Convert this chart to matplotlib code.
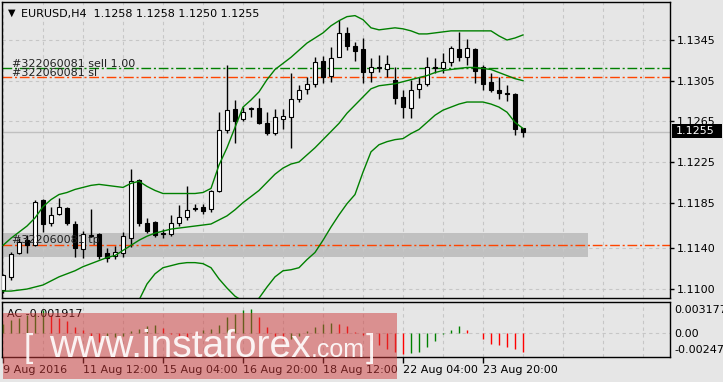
import numpy as np
import matplotlib
matplotlib.use("Agg")
import matplotlib.pyplot as plt
from matplotlib.patches import Rectangle

# EURUSD H4 candles (bar 0 .. 65)
opens = [1.1099, 1.1112, 1.1135, 1.1148, 1.1143, 1.1188, 1.1165, 1.1174, 1.1180, 1.1164,
         1.1139, 1.1152, 1.1154, 1.1135, 1.1133, 1.1135, 1.1150, 1.1207, 1.1165, 1.1166,
         1.1155, 1.1154, 1.1165, 1.1171, 1.1179, 1.1181, 1.1179, 1.1196, 1.1256, 1.1277,
         1.1267, 1.1277, 1.1278, 1.1263, 1.1254, 1.1267, 1.1269, 1.1287, 1.1297, 1.1302,
         1.1324, 1.1310, 1.1328, 1.1352, 1.1339, 1.1336, 1.1314, 1.1318, 1.1316, 1.1306,
         1.1289, 1.1278, 1.1297, 1.1302, 1.1318, 1.1317, 1.1323, 1.1336, 1.1328, 1.1336,
         1.1318, 1.1304, 1.1296, 1.1293, 1.1292, 1.1258]
highs = [1.1115, 1.1136, 1.1150, 1.1153, 1.1188, 1.1189, 1.1181, 1.1190, 1.1181, 1.1167,
         1.1157, 1.1179, 1.1155, 1.1140, 1.1142, 1.1156, 1.1218, 1.1208, 1.1170, 1.1167,
         1.1159, 1.1173, 1.1183, 1.1201, 1.1184, 1.1184, 1.1197, 1.1274, 1.1320, 1.1286,
         1.1279, 1.1279, 1.1288, 1.1274, 1.1277, 1.1277, 1.1313, 1.1301, 1.1309, 1.1328,
         1.1329, 1.1338, 1.1365, 1.1358, 1.1343, 1.1347, 1.1327, 1.1330, 1.1330, 1.1318,
         1.1296, 1.1306, 1.1309, 1.1328, 1.1327, 1.1332, 1.1339, 1.1353, 1.1346, 1.1337,
         1.1320, 1.1313, 1.1309, 1.1301, 1.1293, 1.1258]
lows = [1.1096, 1.1109, 1.1134, 1.1135, 1.1142, 1.1156, 1.1162, 1.1173, 1.1163, 1.1132,
        1.1131, 1.1151, 1.1130, 1.1127, 1.1130, 1.1132, 1.1141, 1.1162, 1.1155, 1.1151,
        1.1150, 1.1152, 1.1162, 1.1168, 1.1177, 1.1174, 1.1176, 1.1195, 1.1254, 1.1244,
        1.1265, 1.1269, 1.1262, 1.1252, 1.1252, 1.1257, 1.1239, 1.1284, 1.1292, 1.1299,
        1.1303, 1.1304, 1.1328, 1.1335, 1.1324, 1.1303, 1.1304, 1.1314, 1.1309, 1.1282,
        1.1268, 1.1268, 1.1288, 1.1300, 1.1313, 1.1313, 1.1319, 1.1324, 1.1320, 1.1303,
        1.1296, 1.1294, 1.1287, 1.1285, 1.1252, 1.1250]
closes = [1.1114, 1.1134, 1.1146, 1.1143, 1.1186, 1.1164, 1.1173, 1.1181, 1.1165, 1.1140,
          1.1154, 1.1153, 1.1133, 1.1131, 1.1136, 1.1152, 1.1206, 1.1165, 1.1157, 1.1153,
          1.1154, 1.1165, 1.1171, 1.1178, 1.1179, 1.1177, 1.1196, 1.1256, 1.1276, 1.1265,
          1.1274, 1.1278, 1.1263, 1.1254, 1.1269, 1.1270, 1.1287, 1.1296, 1.1302, 1.1323,
          1.1309, 1.1327, 1.1352, 1.1339, 1.1334, 1.1314, 1.1318, 1.1317, 1.1321, 1.1288,
          1.1279, 1.1296, 1.1302, 1.1318, 1.1317, 1.1323, 1.1337, 1.1328, 1.1337, 1.1315,
          1.1302, 1.1296, 1.1293, 1.1292, 1.1257, 1.1255]

# Bollinger bands
bb_upper = [1.1143, 1.1150, 1.1156, 1.1162, 1.1170, 1.1181, 1.1188, 1.1193, 1.1195, 1.1198,
            1.1200, 1.1202, 1.1203, 1.1202, 1.1201, 1.1200, 1.1204, 1.1206, 1.1201, 1.1197,
            1.1194, 1.1194, 1.1194, 1.1194, 1.1194, 1.1195, 1.1199, 1.1222, 1.1239, 1.1259,
            1.1279, 1.1286, 1.1294, 1.1306, 1.1316, 1.1322, 1.1328, 1.1335, 1.1342, 1.1347,
            1.1352, 1.1359, 1.1364, 1.1368, 1.1369, 1.1365, 1.1357, 1.1355, 1.1356, 1.1357,
            1.1356, 1.1354, 1.1351, 1.1351, 1.1352, 1.1353, 1.1354, 1.1354, 1.1354, 1.1354,
            1.1354, 1.1354, 1.1349, 1.1345, 1.1347, 1.1350]
bb_middle = [1.1098, 1.1098, 1.1099, 1.1100, 1.1102, 1.1104, 1.1108, 1.1112, 1.1115, 1.1118,
             1.1122, 1.1125, 1.1128, 1.1131, 1.1133, 1.1138, 1.1143, 1.1148, 1.1152, 1.1155,
             1.1157, 1.1159, 1.1160, 1.1161, 1.1162, 1.1163, 1.1164, 1.1168, 1.1172, 1.1178,
             1.1185, 1.1191, 1.1197, 1.1205, 1.1213, 1.1219, 1.1223, 1.1225, 1.1232, 1.1239,
             1.1247, 1.1255, 1.1263, 1.1273, 1.1281, 1.1289, 1.1297, 1.1300, 1.1301, 1.1302,
             1.1304, 1.1306, 1.1308, 1.1310, 1.1313, 1.1315, 1.1316, 1.1317, 1.1318, 1.1318,
             1.1317, 1.1316, 1.1313, 1.1310, 1.1307, 1.1305]
bb_lower = [1.1053, 1.1046, 1.1042, 1.1038, 1.1034, 1.1027, 1.1028, 1.1031, 1.1034, 1.1037,
            1.1043, 1.1047, 1.1052, 1.1059, 1.1066, 1.1076, 1.1082, 1.1089, 1.1105, 1.1115,
            1.1121, 1.1123, 1.1125, 1.1126, 1.1126, 1.1125, 1.1121, 1.1110, 1.1101, 1.1093,
            1.1088, 1.1087, 1.1091, 1.1102, 1.1112, 1.1118, 1.1119, 1.1121, 1.1129, 1.1136,
            1.1148, 1.1161, 1.1173, 1.1184, 1.1193, 1.1215, 1.1235, 1.1242, 1.1245, 1.1247,
            1.1248, 1.1253, 1.1257, 1.1264, 1.1271, 1.1276, 1.1279, 1.1282, 1.1284, 1.1284,
            1.1284, 1.1282, 1.1279, 1.1274, 1.1264, 1.1258]

# Accelerator oscillator
ac = [0.00092, 0.00134, 0.00154, 0.00185, 0.00205, 0.00236, 0.00185, 0.00154, 0.00123, 0.00062,
      0.00031, -0.00031, -0.00092, -0.00062, -0.00041, -0.00031, 0.00021, 0.00041, 0.00072, 0.00082,
      0.00051, -0.00010, -0.00031, -0.00041, -0.00051, 0.00031, 0.00041, 0.00082, 0.00164, 0.00195,
      0.00236, 0.00246, 0.00164, 0.00062, -0.00031, -0.00072, -0.00062, -0.00031, 0.00021, 0.00062,
      0.00092, 0.00103, 0.00092, 0.00072, 0.00010, -0.00021, -0.00072, -0.00123, -0.00164, -0.00195,
      -0.00216, -0.00205, -0.00195, -0.00144, -0.00082, -0.00010, 0.00031, 0.00072, 0.00031, -0.00005,
      -0.00062, -0.00113, -0.00123, -0.00144, -0.00164, -0.001917]

price_ticks = [1.1100, 1.1140, 1.1185, 1.1225, 1.1265, 1.1305, 1.1345]
time_ticks = [0, 10, 20, 30, 40, 50, 60]
time_labels = ["9 Aug 2016", "11 Aug 12:00", "15 Aug 04:00", "16 Aug 20:00",
               "18 Aug 12:00", "22 Aug 04:00", "23 Aug 20:00"]

sell_price = 1.13175
sl_price = 1.1309
tp_price = 1.1143
zone_top, zone_bottom = 1.1155, 1.11315
last_price = 1.1255

W, H = 723, 382
BG = "#e6e6e6"
GRID = "#c6c6c6"
plt.rcParams['font.family'] = ['DejaVu Sans']

fig = plt.figure(figsize=(W / 100, H / 100), dpi=100, facecolor=BG)
ax = fig.add_axes([2 / W, 1 - 298 / H, 668 / W, 296 / H], facecolor=BG)
ax2 = fig.add_axes([2 / W, 1 - 357 / H, 668 / W, 55 / H], facecolor=BG)

x = np.arange(len(closes))
o = np.array(opens); c = np.array(closes)
xmin, xmax = -0.125, 83.375

# grid
for a in (ax, ax2):
    for gx in range(0, 84, 5):
        a.axvline(gx, color=GRID, lw=0.8, ls=(0, (3, 3)), zorder=1)
for p in price_ticks:
    ax.axhline(p, color=GRID, lw=0.8, ls=(0, (3, 3)), zorder=1)
ax2.axhline(0, color=GRID, lw=0.8, ls=(0, (3, 3)), zorder=1)

# tp zone and order lines
ax.add_patch(Rectangle((xmin, zone_bottom), 73.1 - xmin, zone_top - zone_bottom,
                       facecolor="#c0c0c0", edgecolor="none", zorder=0.5))
ax.axhline(last_price, color="#c0c0c0", lw=1, zorder=1.5)
ax.axhline(sell_price, color="#008000", lw=1, ls=(0, (7, 2, 1.5, 2)), zorder=2)
ax.axhline(sl_price, color="#ff4500", lw=1, ls=(0, (7, 2, 1.5, 2)), zorder=2)
ax.axhline(tp_price, color="#ff4500", lw=1, ls=(0, (7, 2, 1.5, 2)), zorder=2)
ax.text(1.1, sell_price + 0.0001, "#322060081 sell 1.00", fontsize=8, color="#202020",
        va="baseline", zorder=6)
ax.text(1.1, sl_price + 0.0001, "#322060081 sl", fontsize=8, color="#202020",
        va="baseline", zorder=6)
ax.text(1.1, tp_price + 0.0002, "#322060081 tp", fontsize=8, color="#202020",
        va="baseline", zorder=6)

# candles
ax.vlines(x, lows, highs, color="black", lw=1, zorder=3)
body_lo = np.minimum(o, c)
body_h = np.maximum(np.abs(c - o), 0.00005)
cols = ["white" if cc > oo else "black" for oo, cc in zip(o, c)]
ax.bar(x, body_h, bottom=body_lo, width=0.55, color=cols, edgecolor="black",
       lw=0.8, zorder=4)

# bands
for band in (bb_upper, bb_middle, bb_lower):
    ax.plot(x, band, color="#008000", lw=1, zorder=5)

ax.set_xlim(xmin, xmax)
ax.set_ylim(1.10912, 1.13824)
ax.set_xticks([])
ax.yaxis.tick_right()
ax.set_yticks(price_ticks)
ax.set_yticklabels(["%.4f" % p for p in price_ticks])
ax.tick_params(axis="y", length=3, width=1, pad=2, labelsize=8, colors="black")
for s in ax.spines.values():
    s.set_color("black"); s.set_linewidth(1)

# title
fig.text(8 / W, 1 - 12.5 / H, "\u25bc", fontsize=7, va="center", color="black")
fig.text(21 / W, 1 - 16.5 / H, "EURUSD,H4  1.1258 1.1258 1.1250 1.1255",
         fontsize=8, va="baseline", color="black")

# current price marker
fig.patches.append(Rectangle((672 / W, 1 - 138 / H), 50 / W, 14 / H,
                             transform=fig.transFigure, facecolor="black",
                             edgecolor="none", zorder=2))
fig.text(676 / W, 1 - 131 / H, "%.4f" % last_price, fontsize=8, color="white",
         va="center", zorder=3)

# AC pane
ac_arr = np.array(ac)
ac_cols = ["#008000" if i == 0 or ac_arr[i] > ac_arr[i - 1] else "#ff0000"
           for i in range(len(ac_arr))]
ax2.vlines(x, 0, ac_arr, colors=ac_cols, lw=1, zorder=3)
ax2.set_xlim(xmin, xmax)
ax2.set_ylim(-0.00247, 0.003177)
ax2.set_yticks([])
ax2.set_xticks(time_ticks)
ax2.set_xticklabels(time_labels, ha="left")
ax2.tick_params(axis="x", length=4, width=1, pad=2, labelsize=8, colors="black")
for s in ax2.spines.values():
    s.set_color("black"); s.set_linewidth(1)
ax2.text(0.008, 0.88, "AC -0.001917", transform=ax2.transAxes, fontsize=8,
         va="top", color="black", zorder=6)
for yy, lab in [(310, "0.003177"), (334, "0.00"), (350, "-0.00247")]:
    fig.text(674 / W, 1 - yy / H, lab, fontsize=8, va="center", color="black")

# watermark
fig.patches.append(Rectangle((3 / W, 1 - 379 / H), 394 / W, 66 / H,
                             transform=fig.transFigure, facecolor="#d03c3c",
                             alpha=0.5, edgecolor="none", zorder=5))
fig.text(24 / W, 1 - 357 / H, "[", fontsize=24, color="white", alpha=0.9,
         va="baseline", family="Liberation Sans", zorder=6)
fig.text(49 / W, 1 - 357 / H, "www.instaforex", fontsize=28, color="white", alpha=0.9,
         va="baseline", family="Liberation Sans", zorder=6)
fig.text(311 / W, 1 - 357 / H, ".com", fontsize=18, color="white", alpha=0.9,
         va="baseline", family="Liberation Sans", zorder=6)
fig.text(366 / W, 1 - 357 / H, "]", fontsize=24, color="white", alpha=0.9,
         va="baseline", family="Liberation Sans", zorder=6)

fig.savefig("out.png", dpi=100, facecolor=BG)
